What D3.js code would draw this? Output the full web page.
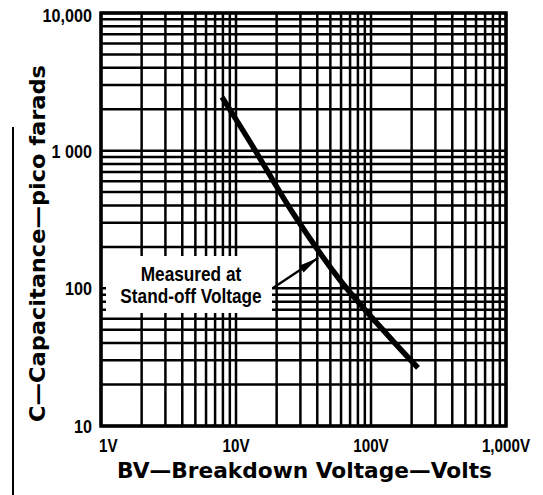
<!DOCTYPE html>
<html><head><meta charset="utf-8">
<script src="https://cdn.jsdelivr.net/npm/d3@7"></script>
<style>body{margin:0;background:#fff}svg{display:block}</style>
</head><body><svg id="c" width="543" height="495"></svg>
<script>
// ---- data ----
const xDomain = [1, 1000];
const yDomain = [10, 10000];
const xTickValues = [1, 10, 100, 1000];
const xTickLabels = ["1V", "10V", "100V", "1,000V"];
const yTickValues = [10, 100, 1000, 10000];
const yTickLabels = ["10", "100", "1 000", "10,000"];
const curveVolts = [7.88, 13.4, 26.4, 58.9, 143, 223];
const curvePf = [2449, 1062, 352, 115, 42.2, 26.4];
const noteLines = ["Measured at", "Stand-off Voltage"];
const arrowFrom = [18.8, 100.5];
const arrowTo = [40.5, 166];
const xTitle = "BV\u2014Breakdown Voltage\u2014Volts";
const yTitle = "C\u2014Capacitance\u2014pico farads";

// ---- layout ----
const L = 101, R = 506, T = 13, B = 426;
const svg = d3.select("#c");
const x = d3.scaleLog().domain(xDomain).range([L, R]);
const y = d3.scaleLog().domain(yDomain).range([B, T]);
const ink = "#000";
const sans = "'Liberation Sans',Arial,sans-serif";
function condense(sel, f) {
  sel.each(function () {
    const w = this.getComputedTextLength();
    d3.select(this).attr("textLength", w * f).attr("lengthAdjust", "spacingAndGlyphs");
  });
}

// grid
const g = svg.append("g");
g.selectAll("line.vx").data(x.ticks()).join("line")
  .attr("x1", d => x(d)).attr("x2", d => x(d)).attr("y1", T).attr("y2", B)
  .attr("stroke", ink).attr("stroke-width", 2.5);
g.selectAll("line.hy").data(y.ticks()).join("line")
  .attr("y1", d => y(d)).attr("y2", d => y(d)).attr("x1", L).attr("x2", R)
  .attr("stroke", ink).attr("stroke-width", 2.5);
// frame
svg.append("rect").attr("x", L).attr("y", T).attr("width", R - L).attr("height", B - T)
  .attr("fill", "none").attr("stroke", ink).attr("stroke-width", 3.5);

// annotation background
svg.append("rect").attr("x", 106).attr("y", 256).attr("width", 166).attr("height", 57).attr("fill", "#fff");

// curve
const pts = curveVolts.map((v, i) => [v, curvePf[i]]);
svg.append("path").datum(pts)
  .attr("d", d3.line().x(d => x(d[0])).y(d => y(d[1])).curve(d3.curveCatmullRom.alpha(0.5)))
  .attr("fill", "none").attr("stroke", ink).attr("stroke-width", 5.5);

// arrow
const ax0 = x(arrowFrom[0]), ay0 = y(arrowFrom[1]), ax1 = x(arrowTo[0]), ay1 = y(arrowTo[1]);
svg.append("line").attr("x1", ax0).attr("y1", ay0).attr("x2", ax1).attr("y2", ay1)
  .attr("stroke", ink).attr("stroke-width", 2.2);
const ang = Math.atan2(ay1 - ay0, ax1 - ax0), hl = 20, hw = 4;
const bx = ax1 - hl * Math.cos(ang), by = ay1 - hl * Math.sin(ang);
svg.append("path").attr("d", `M${ax1},${ay1}L${bx + hw * Math.sin(ang)},${by - hw * Math.cos(ang)}L${bx - hw * Math.sin(ang)},${by + hw * Math.cos(ang)}Z`)
  .attr("fill", ink);

// annotation text
svg.selectAll("text.note").data(noteLines).join("text")
  .attr("x", 191).attr("y", (d, i) => 281 + i * 22)
  .attr("text-anchor", "middle").attr("font-family", sans).attr("font-weight", "bold")
  .attr("font-size", 21).attr("fill", ink).text(d => d)
  .call(condense, 0.82);

// tick labels
svg.selectAll("text.xt").data(xTickValues).join("text")
  .attr("x", (d, i) => i === 0 ? x(d) - 2 : x(d))
  .attr("y", 452)
  .attr("text-anchor", (d, i) => i === 0 ? "start" : "middle")
  .attr("font-family", sans).attr("font-weight", "bold").attr("font-size", 19)
  .attr("fill", ink).text((d, i) => xTickLabels[i])
  .call(condense, 0.8);
svg.selectAll("text.yt").data(yTickValues).join("text")
  .attr("x", 92).attr("y", (d, i) => y(d) + 7 + (i === 3 ? 2 : 0))
  .attr("text-anchor", "end")
  .attr("font-family", sans).attr("font-weight", "bold").attr("font-size", 19)
  .attr("fill", ink).text((d, i) => yTickLabels[i])
  .call(condense, 0.85);

// titles
svg.append("text").attr("x", 117).attr("y", 478)
  .attr("font-family", "'DejaVu Sans',sans-serif").attr("font-weight", "bold").attr("font-size", 22)
  .attr("textLength", 375).attr("lengthAdjust", "spacingAndGlyphs").attr("fill", ink).text(xTitle);
svg.append("text").attr("transform", "translate(45,422) rotate(-90)")
  .attr("font-family", "'DejaVu Sans',sans-serif").attr("font-weight", "bold").attr("font-size", 22)
  .attr("textLength", 357).attr("lengthAdjust", "spacingAndGlyphs").attr("fill", ink).text(yTitle);

// scan border line at left
svg.append("line").attr("x1", 13).attr("x2", 13).attr("y1", 127).attr("y2", 495)
  .attr("stroke", ink).attr("stroke-width", 2);
</script></body></html>
